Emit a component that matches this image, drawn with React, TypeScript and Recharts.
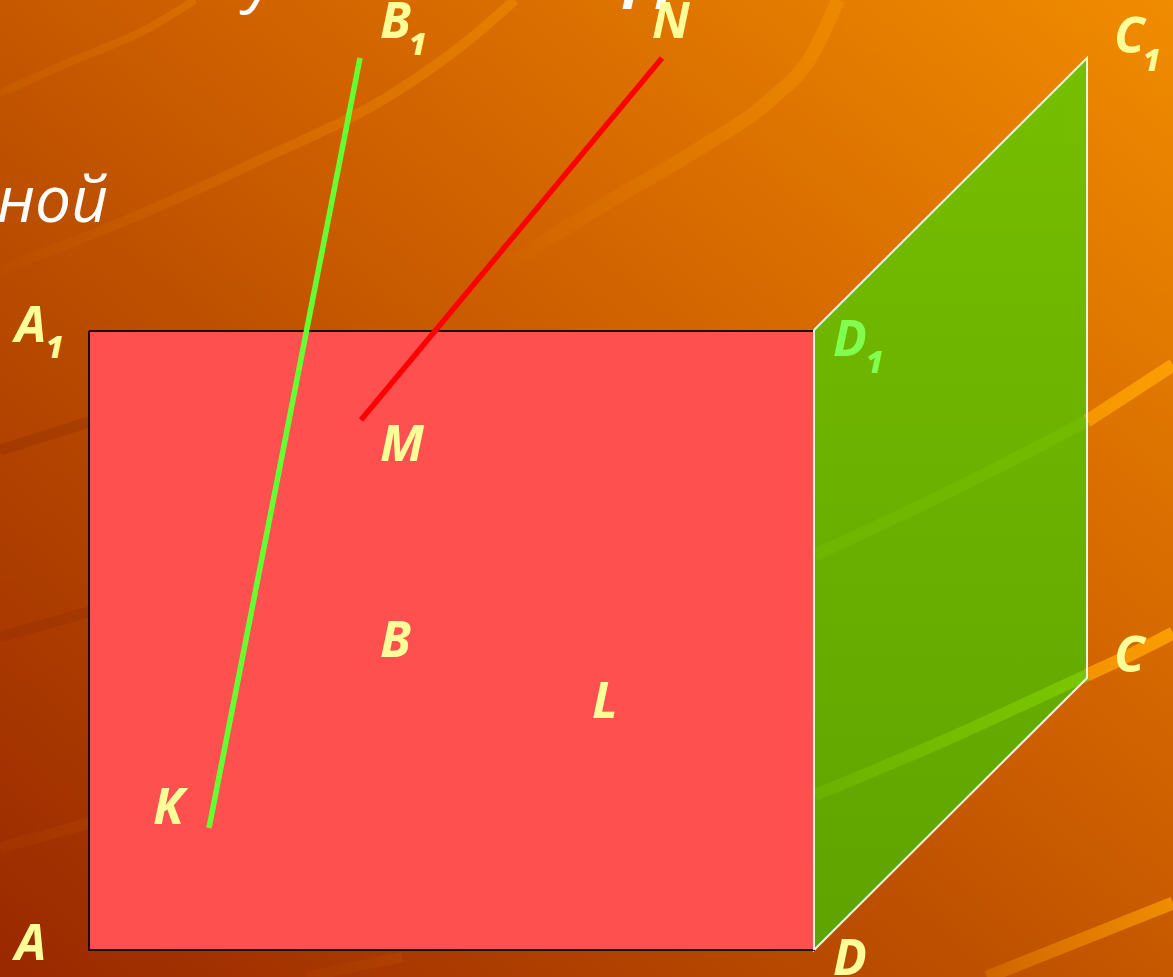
import React from "react";
import { ComposedChart, Area, Line, Scatter, XAxis, YAxis } from "recharts";

// everything is in picture coordinates, axes run 0-1173 and 0-977 (y downwards)
const W = 1173;
const H = 977;

const frontFace = [
  { x: 89, range: [950, 331] },
  { x: 814, range: [950, 331] },
];
const frontOutline = [
  { x: 89, y: 331 },
  { x: 814, y: 331 },
  { x: 814, y: 950 },
  { x: 89, y: 950 },
  { x: 89, y: 331 },
];
const sideFace = [
  { x: 814, range: [950, 330] },
  { x: 1087, range: [678, 58] },
];
const sideOutline = [
  { x: 814, y: 330 },
  { x: 1087, y: 58 },
  { x: 1087, y: 678 },
  { x: 814, y: 950 },
  { x: 814, y: 330 },
];
const lineKB1 = [
  { x: 360, y: 58 },
  { x: 209, y: 828 },
];
const lineMN = [
  { x: 662, y: 58 },
  { x: 361, y: 420 },
];

// background streaks: stroke is a gradient id, they fade towards the lower left
const swooshLight = [
  { pts: [[0, 93], [70, 62], [149, 28], [195, 0]], w: 8, stroke: "url(#fadeSoft)" },
  { pts: [[0, 270], [134, 217], [260, 160], [394, 93], [465, 43], [515, 0]], w: 10, stroke: "url(#fadeMid)" },
  { pts: [[510, 262], [600, 207], [700, 148], [770, 100], [812, 55], [838, 0]], w: 14, stroke: "url(#fadeMid)" },
  { pts: [[1087, 421], [1130, 393], [1173, 365]], w: 13, stroke: "url(#fadeBright)" },
  { pts: [[1087, 675], [1130, 655], [1173, 633]], w: 13, stroke: "url(#fadeBright)" },
  { pts: [[987, 977], [1080, 940], [1173, 903]], w: 13, stroke: "url(#fadeBottom)" },
  { pts: [[306, 977], [402, 957]], w: 10, stroke: "url(#fadeFaint)" },
  { pts: [[0, 848], [89, 823]], w: 11, stroke: "url(#fadeFaint)" },
];
// the same streaks where they show through the green face
const swooshGreen = [
  { pts: [[815, 555], [965, 484], [1087, 421]], w: 12, stroke: "url(#fadeGreenSoft)" },
  { pts: [[815, 795], [950, 738], [1020, 706], [1087, 675]], w: 12, stroke: "url(#fadeGreen)" },
];
const swooshDark = [
  { pts: [[0, 450], [89, 422]], w: 11, o: 0.2 },
  { pts: [[0, 637], [89, 612]], w: 11, o: 0.16 },
];

const pointLabels = [
  { x: 380, y: 38, name: "B", sub: "1", subDx: 29, subDy: 17, color: "#ffff99" },
  { x: 652, y: 38, name: "N", color: "#ffff99" },
  { x: 1114, y: 53, name: "C", sub: "1", subDx: 29, subDy: 18, color: "#ffff99" },
  { x: 15, y: 342, name: "A", sub: "1", subDx: 31, subDy: 16, color: "#ffff99" },
  { x: 833, y: 356, name: "D", sub: "1", subDx: 33, subDy: 17, color: "#80ff50" },
  { x: 380, y: 461, name: "M", color: "#ffff99" },
  { x: 380, y: 657, name: "B", color: "#ffff99" },
  { x: 592, y: 718, name: "L", color: "#ffff99" },
  { x: 153, y: 824, name: "K", color: "#ffff99" },
  { x: 15, y: 960, name: "A", color: "#ffff99" },
  { x: 1114, y: 672, name: "C", color: "#ffff99" },
  { x: 833, y: 975, name: "D", color: "#ffff99" },
];
// bits of the slide's title text that show behind the figure
const titleBits = [
  { x: 108, y: 222, text: "ной", size: 64, anchor: "end" },
  { x: 246, y: 0, text: "у", size: 64, anchor: "start" },
  { x: 620, y: 9, text: "п", size: 100, anchor: "start" },
];

const FONT = "'Open Sans', sans-serif";

function toPoints(pts: number[][]) {
  return pts.map(([x, y]) => ({ x, y }));
}

function PointLabel(props: any) {
  const { cx, cy, payload } = props;
  return (
    <g fontFamily={FONT} fontStyle="italic" fontWeight={700} fill={payload.color}>
      <text x={cx} y={cy} fontSize={50}>{payload.name}</text>
      {payload.sub && (
        <text x={cx + payload.subDx} y={cy + payload.subDy} fontSize={30} fontWeight={800}>
          {payload.sub}
        </text>
      )}
    </g>
  );
}

function TitleBit(props: any) {
  const { cx, cy, payload } = props;
  return (
    <text x={cx} y={cy} fontFamily={FONT} fontStyle="italic" fontWeight={500} fontSize={payload.size} textAnchor={payload.anchor} fill="#ffffff">
      {payload.text}
    </text>
  );
}

function Fade({ id, color, from, to }: { id: string; color: string; from: number; to: number }) {
  return (
    <linearGradient id={id} x1="0" y1="0" x2="1" y2="0">
      <stop offset="0%" stopColor={color} stopOpacity={from} />
      <stop offset="100%" stopColor={color} stopOpacity={to} />
    </linearGradient>
  );
}

export default function App() {
  return (
    <div
      style={{
        position: "absolute",
        left: 0,
        top: 0,
        width: W,
        height: H,
        overflow: "hidden",
        background: "linear-gradient(to top right, #9a2800 0%, #bd5000 42%, #cf6000 58%, #f08c00 100%)",
      }}
    >
      <ComposedChart width={W} height={H} margin={{ top: 0, right: 0, bottom: 0, left: 0 }}>
        <defs>
          <linearGradient id="sideFill" x1="0" y1="0" x2="0" y2="1">
            <stop offset="0%" stopColor="#76be00" />
            <stop offset="100%" stopColor="#5fa300" />
          </linearGradient>
          {Fade({ id: "fadeSoft", color: "#ffa200", from: 0.08, to: 0.2 })}
          {Fade({ id: "fadeMid", color: "#ffa200", from: 0.02, to: 0.32 })}
          {Fade({ id: "fadeBright", color: "#ffa200", from: 0.75, to: 0.9 })}
          {Fade({ id: "fadeBottom", color: "#ffa200", from: 0.25, to: 0.7 })}
          {Fade({ id: "fadeFaint", color: "#ffa200", from: 0.04, to: 0.07 })}
          {Fade({ id: "fadeGreenSoft", color: "#7cc800", from: 0.25, to: 0.4 })}
          {Fade({ id: "fadeGreen", color: "#7cc800", from: 0.3, to: 0.95 })}
        </defs>
        <XAxis type="number" dataKey="x" domain={[0, W]} hide allowDataOverflow />
        <YAxis type="number" domain={[0, H]} reversed hide allowDataOverflow />

        {swooshLight.map((s, i) => (
          <Line key={"l" + i} data={toPoints(s.pts)} dataKey="y" type="monotone" stroke={s.stroke} strokeWidth={s.w} dot={false} activeDot={false} isAnimationActive={false} />
        ))}
        {swooshDark.map((s, i) => (
          <Line key={"d" + i} data={toPoints(s.pts)} dataKey="y" type="monotone" stroke="#7a1c00" strokeOpacity={s.o} strokeWidth={s.w} dot={false} activeDot={false} isAnimationActive={false} />
        ))}

        <Scatter data={titleBits} dataKey="y" shape={TitleBit} isAnimationActive={false} />

        <Area data={sideFace} dataKey="range" type="linear" stroke="none" fill="url(#sideFill)" fillOpacity={1} dot={false} activeDot={false} isAnimationActive={false} />
        {swooshGreen.map((s, i) => (
          <Line key={"g" + i} data={toPoints(s.pts)} dataKey="y" type="monotone" stroke={s.stroke} strokeWidth={s.w} dot={false} activeDot={false} isAnimationActive={false} />
        ))}
        <Line data={sideOutline} dataKey="y" type="linear" stroke="#e8f5e0" strokeWidth={2} dot={false} activeDot={false} isAnimationActive={false} />

        <Area data={frontFace} dataKey="range" type="linear" stroke="none" fill="#ff5050" fillOpacity={1} dot={false} activeDot={false} isAnimationActive={false} />
        <Line data={frontOutline} dataKey="y" type="linear" stroke="#111111" strokeWidth={2} dot={false} activeDot={false} isAnimationActive={false} />
        <Line data={sideOutline.slice(3)} dataKey="y" type="linear" stroke="#e8f5e0" strokeWidth={2} dot={false} activeDot={false} isAnimationActive={false} />

        <Line data={lineKB1} dataKey="y" type="linear" stroke="#66ff33" strokeWidth={5.5} dot={false} activeDot={false} isAnimationActive={false} />
        <Line data={lineMN} dataKey="y" type="linear" stroke="#ff0000" strokeWidth={5.5} dot={false} activeDot={false} isAnimationActive={false} />

        <Scatter data={pointLabels} dataKey="y" shape={PointLabel} isAnimationActive={false} />
      </ComposedChart>
    </div>
  );
}
